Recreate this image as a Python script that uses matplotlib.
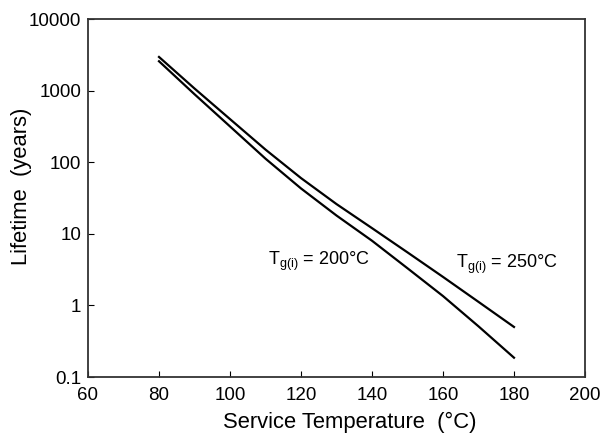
import numpy as np
import matplotlib
matplotlib.use("Agg")
import matplotlib.pyplot as plt
from matplotlib.ticker import FixedLocator, FixedFormatter

plt.rcParams['font.family'] = ['Liberation Sans', 'DejaVu Sans']
plt.rcParams['mathtext.fontset'] = 'custom'
plt.rcParams['mathtext.rm'] = 'Liberation Sans'
plt.rcParams['mathtext.it'] = 'Liberation Sans'

temps = [80, 90, 100, 110, 120, 130, 140, 150, 160, 170, 180]
life_tg250 = [2950, 1070, 400, 150, 60, 26, 12, 5.5, 2.5, 1.12, 0.50]
life_tg200 = [2570, 890, 316, 112, 43, 18, 8.0, 3.3, 1.35, 0.51, 0.186]

yticks = [0.1, 1, 10, 100, 1000, 10000]
ytick_labels = ['0.1', '1', '10', '100', '1000', '10000']
xticks = [60, 80, 100, 120, 140, 160, 180, 200]

fig = plt.figure(figsize=(6.03, 4.33), dpi=100)
ax = fig.add_axes([88 / 603, 1 - 377 / 433, 497 / 603, 358 / 433])

ax.plot(temps, life_tg250, color='black', lw=1.6)
ax.plot(temps, life_tg200, color='black', lw=1.6)

ax.set_yscale('log')
ax.set_xlim(60, 200)
ax.set_ylim(0.1, 10000)
ax.yaxis.set_major_locator(FixedLocator(yticks))
ax.yaxis.set_major_formatter(FixedFormatter(ytick_labels))
ax.yaxis.set_minor_locator(FixedLocator([]))
ax.set_xticks(xticks)

ax.tick_params(direction='in', length=4, width=0.8, labelsize=13.5)
ax.tick_params(axis='x', pad=7.5)
ax.tick_params(axis='y', pad=5)
for s in ax.spines.values():
    s.set_linewidth(1.3)
    s.set_color('#333333')

ax.set_xlabel('Service Temperature  (°C)', fontsize=15.8, va='center')
ax.xaxis.set_label_coords(0.526, -0.126)
ax.set_ylabel('Lifetime  (years)', fontsize=15.8, va='center')
ax.yaxis.set_label_coords(-0.133, 0.532)

ax.text(110.7, 3.66, r'T$_{\mathregular{g(i)}}$ = 200°C', fontsize=13, va='baseline')
ax.text(163.7, 3.33, r'T$_{\mathregular{g(i)}}$ = 250°C', fontsize=13, va='baseline')

fig.savefig('out.png', dpi=100)
